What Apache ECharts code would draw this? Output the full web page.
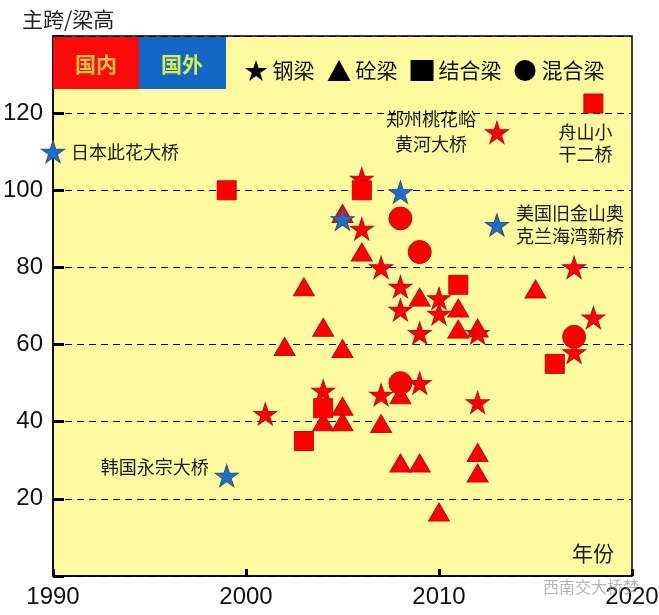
<!DOCTYPE html>
<html><head><meta charset="utf-8">
<script src="https://cdn.jsdelivr.net/npm/echarts@6/dist/echarts.min.js"></script>
<style>html,body{margin:0;padding:0;background:#fff}#c{width:659px;height:615px}</style>
</head><body><div id="c"></div>
<script>
// ---- data ----
const xTicks = [1990, 2000, 2010, 2020];
const yTicks = [20, 40, 60, 80, 100, 120];
const steelDomestic = [[2001,42],[2004,48],[2006,103],[2006,90],[2007,80],[2007,47],[2008,75],[2008,69],[2009,63],[2009,50],[2010,72],[2010,68],[2012,63],[2012,45],[2013,115],[2017,80],[2017,58],[2018,67]];
const steelDomesticNames = ['','','','','','','','','','','','','','','郑州桃花峪\n黄河大桥','','',''];
const steelForeign = [[1990,110],[1999,26],[2005,92.5],[2008,99.5],[2013,91]];
const steelForeignNames = ['日本此花大桥','韩国永宗大桥','','','美国旧金山奥\n克兰海湾新桥'];
const concrete = [[2002,59.5],[2003,75],[2004,64.5],[2004,40],[2005,94],[2005,59],[2005,44],[2005,40],[2006,84],[2007,39.5],[2008,47],[2008,29.3],[2009,72.3],[2009,29.3],[2010,16.6],[2011,69.5],[2011,64],[2012,64.3],[2012,32],[2012,26.7],[2015,74.4]];
const composite = [[1999,100],[2003,35],[2004,43.5],[2006,100],[2011,75.5],[2016,55],[2018,122.5]];
const compositeNames = ['','','','','','','舟山小\n干二桥'];
const hybrid = [[2008,92.7],[2009,84],[2008,50],[2017,62]];
const legendNames = ['钢梁','砼梁','结合梁','混合梁'];

// ---- style ----
const RED = '#ff0000', RED_B = '#b81010', BLUE = '#1b6fc6', BLUE_B = '#34507e';
const starPath = 'path://M95.1,0L117.55,69.1L190.2,69.1L131.4,111.8L153.9,180.9L95.1,138.2L36.3,180.9L58.8,111.8L0,69.1L72.65,69.1Z';
const cjk = '"Noto Sans CJK SC", sans-serif';
const annText = {fontSize:18, color:'#1a1a1a', fontFamily:cjk};

const labelOpts = {
  '日本此花大桥': {position:'right', distance:6},
  '韩国永宗大桥': {position:'left', distance:6, offset:[0,-9]},
  '美国旧金山奥\n克兰海湾新桥': {position:'right', distance:7, lineHeight:23, align:'left'},
  '郑州桃花峪\n黄河大桥': {position:[-54,11], align:'center', verticalAlign:'middle', lineHeight:25},
  '舟山小\n干二桥': {position:[2,50], align:'center', verticalAlign:'middle', lineHeight:22}
};
function withLabels(pts, names) {
  return pts.map((p, i) => {
    const n = names ? names[i] : '';
    if (!n) return {value:p};
    return {value:p, name:n, label:Object.assign({show:true, formatter:n}, annText, labelOpts[n])};
  });
}

const chart = echarts.init(document.getElementById('c'));
chart.setOption({
  animation:false,
  backgroundColor:'#ffffff',
  title:{text:'主跨/梁高', left:17, top:4, textStyle:{fontSize:21, fontWeight:'normal', color:'#222', fontFamily:cjk}},
  grid:{left:53, right:27, top:36, bottom:39, containLabel:false, outerBoundsMode:'none',
    show:true, backgroundColor:'#fdfa9f', borderColor:'#000', borderWidth:1.5},
  legend:{left:240, top:55, itemWidth:23, itemHeight:21, itemGap:13, selectedMode:false,
    textStyle:{fontSize:21, color:'#111', fontFamily:cjk},
    data:[
      {name:legendNames[0], icon:starPath, itemStyle:{color:'#000', borderWidth:0}},
      {name:legendNames[1], icon:'triangle', itemStyle:{color:'#000', borderWidth:0}},
      {name:legendNames[2], icon:'rect', itemStyle:{color:'#000', borderWidth:0}},
      {name:legendNames[3], icon:'circle', itemStyle:{color:'#000', borderWidth:0}}
    ]},
  xAxis:{type:'value', min:xTicks[0], max:xTicks[xTicks.length-1], interval:10,
    axisLine:{show:true, lineStyle:{color:'#000', width:1.5}},
    axisTick:{show:true, inside:true, length:7, lineStyle:{color:'#000', width:3}},
    axisLabel:{margin:9, fontSize:24, color:'#111', fontFamily:'"Liberation Sans", Arial, sans-serif',
      formatter:v => String(v)},
    splitLine:{show:false}},
  yAxis:{type:'value', min:0, max:140, interval:20,
    axisLine:{show:true, lineStyle:{color:'#000', width:1.5}},
    axisTick:{show:true, inside:true, length:11, lineStyle:{color:'#000', width:3}},
    axisLabel:{margin:10, fontSize:24, color:'#111', fontFamily:'"Liberation Sans", Arial, sans-serif',
      formatter:v => yTicks.indexOf(v) >= 0 ? String(v) : ''},
    splitLine:{show:true, lineStyle:{color:'#000', width:1, type:[7,5]}}},
  graphic:[
    {type:'rect', left:53, top:37, shape:{width:86, height:52}, style:{fill:'#fa0a0a'}, z:10},
    {type:'rect', left:139, top:37, shape:{width:87, height:52}, style:{fill:'#1466c6'}, z:10},
    {type:'text', x:96, y:64, style:{text:'国内', fill:'#f7c446', font:'bold 21px "Noto Sans CJK SC"', textAlign:'center', textVerticalAlign:'middle'}, z:11},
    {type:'text', x:182, y:64, style:{text:'国外', fill:'#d6ee4e', font:'bold 21px "Noto Sans CJK SC"', textAlign:'center', textVerticalAlign:'middle'}, z:11},
    {type:'text', x:572, y:553, style:{text:'年份', fill:'#1a1a1a', font:'21px "Noto Sans CJK SC"', textVerticalAlign:'middle'}, z:11},
    {type:'text', x:543, y:587, style:{text:'西南交大桥梦', fill:'rgba(150,150,150,0.7)', font:'16px "Noto Sans CJK SC"', textVerticalAlign:'middle'}, z:12}
  ],
  series:[
    {name:'砼梁', type:'scatter', symbol:'triangle', symbolSize:[21,18], data:withLabels(concrete),
      itemStyle:{color:RED, borderColor:RED_B, borderWidth:1, opacity:1}, z:3},
    {name:'钢梁', type:'scatter', symbol:starPath, symbolSize:[23,22], data:withLabels(steelDomestic, steelDomesticNames),
      itemStyle:{color:RED, borderColor:RED_B, borderWidth:1, opacity:1}, z:4},
    {name:'结合梁', type:'scatter', symbol:'rect', symbolSize:19, data:withLabels(composite, compositeNames),
      itemStyle:{color:RED, borderColor:RED_B, borderWidth:1, opacity:1}, z:5},
    {name:'混合梁', type:'scatter', symbol:'circle', symbolSize:23, data:withLabels(hybrid),
      itemStyle:{color:RED, borderColor:RED_B, borderWidth:1, opacity:1}, z:6},
    {name:'钢梁', type:'scatter', symbol:starPath, symbolSize:[23,22], data:withLabels(steelForeign, steelForeignNames),
      itemStyle:{color:BLUE, borderColor:BLUE_B, borderWidth:1, opacity:1}, z:7}
  ]
});
</script></body></html>
